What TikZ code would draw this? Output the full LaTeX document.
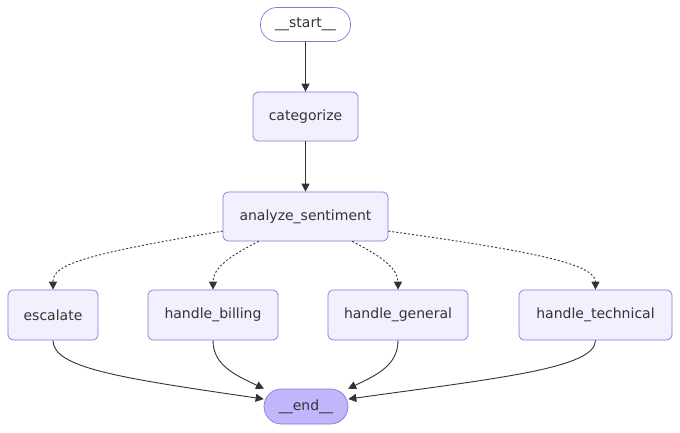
\documentclass[tikz,border=0pt]{standalone}
\usepackage{fontspec}
\setmainfont{DejaVu Sans}
\usetikzlibrary{arrows.meta}
\definecolor{nodefill}{HTML}{F2F0FF}
\definecolor{nodestroke}{HTML}{9370DB}
\definecolor{endfill}{HTML}{BFB6FC}
\definecolor{edgecol}{HTML}{333333}
\begin{document}
\begin{tikzpicture}[x=1pt,y=-1pt,
  box/.style={draw=nodestroke,fill=nodefill,line width=0.7pt,rounded corners=5pt,
    minimum height=49pt,inner sep=0pt,text=edgecol,font=\fontsize{14}{16}\selectfont},
  pill/.style={box,minimum height=34pt},
  edge/.style={draw=edgecol,line width=0.9pt,-{Triangle[length=8pt,width=8pt]}},
  dotedge/.style={edge,dash pattern=on 2pt off 2pt}]
\useasboundingbox (0,0) rectangle (680,432);
\fill[white] (0,0) rectangle (680,432);
\node[pill,fill=white,minimum width=90pt,rounded corners=16.5pt] (start) at (305.5,24.5) {\_\_start\_\_};
\node[box,minimum width=105pt] (cat) at (305.5,116.5) {categorize};
\node[box,minimum width=165pt] (an) at (305.5,216.5) {analyze\_sentiment};
\node[box,minimum width=90pt,minimum height=50pt] (esc) at (53,315) {escalate};
\node[box,minimum width=130pt,minimum height=50pt] (bill) at (213,315) {handle\_billing};
\node[box,minimum width=140pt,minimum height=50pt] (gen) at (398,315) {handle\_general};
\node[box,minimum width=153pt,minimum height=50pt] (tech) at (595.5,315) {handle\_technical};
\node[pill,fill=endfill,minimum width=84pt,minimum height=35pt,rounded corners=17.5pt] (end) at (306,406.5) {\_\_end\_\_};

\draw[edge] (start) -- (cat);
\draw[edge] (cat) -- (an);

\draw[dotedge] (an.190.6) .. controls (80,255) and (53,265) .. (esc.north);
\draw[dotedge] (an.208.3) .. controls (225,258) and (213,270) .. (bill.north);
\draw[dotedge] (an.332.2) .. controls (385,258) and (398,270) .. (gen.north);
\draw[dotedge] (an.350) .. controls (540,252) and (595.5,265) .. (tech.north);

\draw[edge] (esc.south) .. controls (53,368) and (120,378) .. (end.170);
\draw[edge] (bill.south) .. controls (213,365) and (235,375) .. (end.157);
\draw[edge] (gen.south) .. controls (398,365) and (377,375) .. (end.23);
\draw[edge] (tech.south) .. controls (595.5,368) and (500,378) .. (end.10);
\end{tikzpicture}
\end{document}
